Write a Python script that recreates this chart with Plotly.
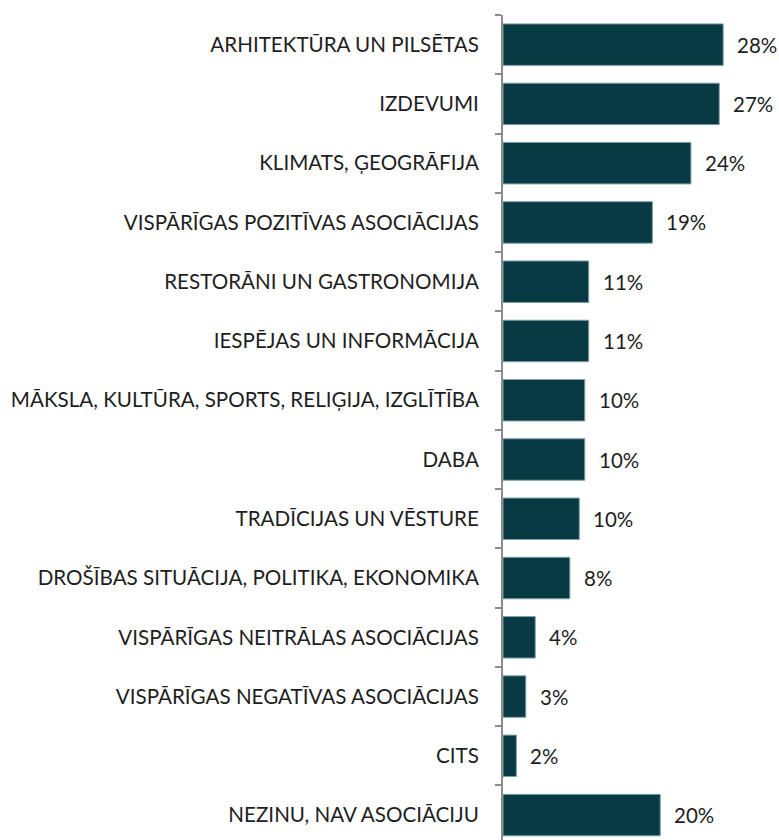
import plotly.graph_objects as go

categories = [
    "ARHITEKTŪRA UN PILSĒTAS",
    "IZDEVUMI",
    "KLIMATS, ĢEOGRĀFIJA",
    "VISPĀRĪGAS POZITĪVAS ASOCIĀCIJAS",
    "RESTORĀNI UN GASTRONOMIJA",
    "IESPĒJAS UN INFORMĀCIJA",
    "MĀKSLA, KULTŪRA, SPORTS, RELIĢIJA, IZGLĪTĪBA",
    "DABA",
    "TRADĪCIJAS UN VĒSTURE",
    "DROŠĪBAS SITUĀCIJA, POLITIKA, EKONOMIKA",
    "VISPĀRĪGAS NEITRĀLAS ASOCIĀCIJAS",
    "VISPĀRĪGAS NEGATĪVAS ASOCIĀCIJAS",
    "CITS",
    "NEZINU, NAV ASOCIĀCIJU",
]
values = [28.0, 27.5, 23.9, 19.0, 10.9, 10.9, 10.4, 10.4, 9.7, 8.5, 4.1, 2.9, 1.7, 20.0]
labels = ["28%", "27%", "24%", "19%", "11%", "11%", "10%", "10%", "10%", "8%", "4%", "3%", "2%", "20%"]

FONT = "Lato"
TXT = "#1e1e1e"

fig = go.Figure()
fig.add_trace(go.Bar(
    x=values, y=categories, orientation="h",
    width=0.7,
    marker=dict(color="#083a44", line=dict(color="#7fa0a6", width=1)),
    hoverinfo="skip",
))

for v, c, t in zip(values, categories, labels):
    fig.add_annotation(x=v, y=c, text=t, showarrow=False, xanchor="left",
                       yanchor="middle", xshift=12,
                       font=dict(family=FONT, size=20.5, color=TXT))

fig.update_layout(
    width=779, height=840,
    margin=dict(l=503, r=0, t=15, b=0),
    paper_bgcolor="white", plot_bgcolor="white",
    showlegend=False,
    bargap=0.3,
)
fig.update_xaxes(range=[0, 35.1], visible=False, fixedrange=True)
fig.update_yaxes(
    categoryorder="array", categoryarray=categories,
    range=[13.42, -0.5],
    showline=True, linecolor="#8c8c8c", linewidth=2,
    ticks="outside", tickson="boundaries", ticklen=6, tickcolor="#8c8c8c", tickwidth=2,
    ticklabelstandoff=18,
    tickfont=dict(family=FONT, size=20.6, color=TXT),
    showgrid=False, zeroline=False, fixedrange=True,
)

fig.write_html(
    "out.html",
    config={"displayModeBar": False, "staticPlot": True},
    post_script="document.body.style.margin='0';document.body.style.overflow='hidden';",
)
